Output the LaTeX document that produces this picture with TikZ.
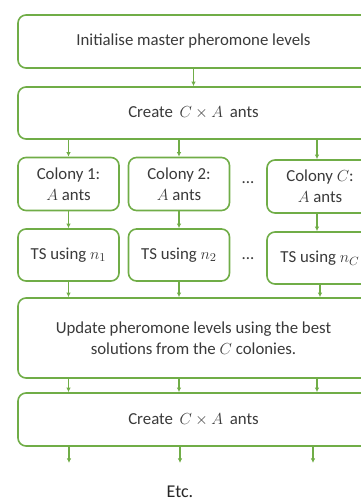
\documentclass[tikz,border=0pt]{standalone}
\usepackage{fontspec}
\setmainfont{Carlito}
\usetikzlibrary{arrows.meta}
\definecolor{grn}{HTML}{70AD47}
\definecolor{txt}{HTML}{3A3A3A}
\begin{document}
\begin{tikzpicture}[x=0.75pt,y=-0.75pt,
  box/.style={draw=grn,line width=1.2pt,rounded corners=6pt,fill=white,
    inner sep=0pt,align=center,text=txt,font=\fontsize{12.6}{15.5}\selectfont},
  wide/.style={box,minimum width=263.25pt},
  small/.style={box,minimum width=75.75pt,minimum height=39.75pt},
  smallc/.style={box,minimum width=79.5pt,minimum height=39.75pt},
  arr/.style={draw=grn,line width=1.1pt,-{Latex[length=3.5pt,width=3.5pt]}},
  lbl/.style={text=txt,font=\fontsize{12.6}{15.5}\selectfont}]
\useasboundingbox (0,0) rectangle (361,501);
\clip (0,0) rectangle (361,501);
\node[wide,minimum height=39.75pt] (init) at (193.5,41.5) {Initialise master pheromone levels};
\node[wide,minimum height=39pt] (create1) at (193.5,113) {Create\, $C\times A$\, ants};
\node[small] (c1) at (68.5,184) {Colony 1:\\$A$ ants};
\node[small] (c2) at (179,184) {Colony 2:\\$A$ ants};
\node[smallc] (cc) at (320,186.5) {Colony $C$:\\$A$ ants};
\node[lbl] (d1) at (248,183) {...};
\node[small,minimum height=39pt] (t1) at (68.5,255) {TS using $n_1$};
\node[small,minimum height=39pt] (t2) at (179,255) {TS using $n_2$};
\node[smallc,minimum height=39pt] (tc) at (320,258) {TS using $n_C$};
\node[lbl] (d2) at (248,259) {...};
\node[wide,minimum height=60pt] (upd) at (193.5,338) {Update pheromone levels using the best\\solutions from the $C$ colonies.};
\node[wide,minimum height=39.75pt] (create2) at (193.5,419.5) {Create\, $C\times A$\, ants};
\node[text=black!85,font=\fontsize{13.5}{16}\selectfont] (etc) at (180,492) {Etc.};
\coordinate (e1) at (69,463);
\coordinate (e2) at (180,463);
\coordinate (e3) at (313,463);
\draw[arr] (init) -- (create1);
\draw[arr] (create1.south -| c1) -- (c1);
\draw[arr] (create1.south -| c2) -- (c2);
\draw[arr] (create1.south -| 317,0) -- (317,0 |- cc.north);
\draw[arr] (c1) -- (t1);
\draw[arr] (c2) -- (t2);
\draw[arr] (cc.south -| 317,0) -- (317,0 |- tc.north);
\draw[arr] (t1) -- (t1 |- upd.north);
\draw[arr] (t2) -- (t2 |- upd.north);
\draw[arr] (tc) -- (tc |- upd.north);
\draw[arr] (upd.south -| c1) -- (c1 |- create2.north);
\draw[arr] (upd.south -| c2) -- (c2 |- create2.north);
\draw[arr] (upd.south -| 317,0) -- (317,0 |- create2.north);
\draw[arr] (create2.south -| e1) -- (e1);
\draw[arr] (create2.south -| e2) -- (e2);
\draw[arr] (create2.south -| e3) -- (e3);
\end{tikzpicture}
\end{document}
